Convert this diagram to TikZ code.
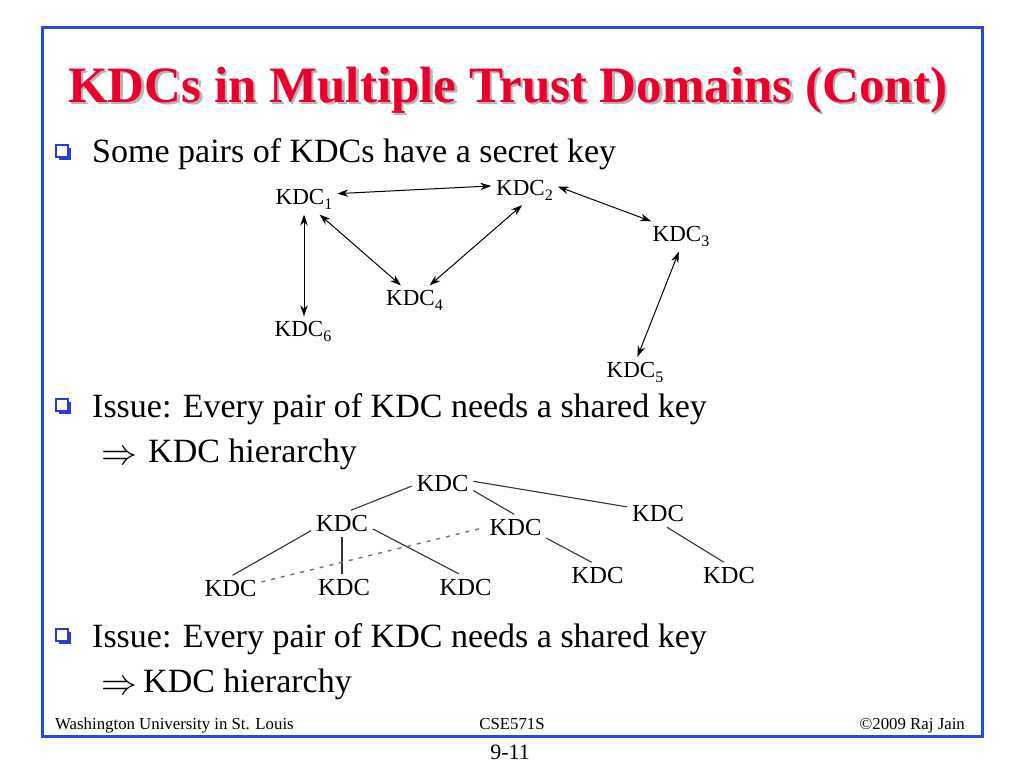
\documentclass[tikz,border=0pt]{standalone}
\usepackage{fontspec}
\setmainfont{Liberation Serif}
\usetikzlibrary{arrows.meta}
\definecolor{frameblue}{RGB}{35,75,225}
\definecolor{titlered}{RGB}{235,0,45}
\definecolor{shadowgray}{RGB}{180,180,180}
\definecolor{bulletblue}{RGB}{40,60,215}
\newcommand{\bigimpl}{\raisebox{-2pt}{\resizebox{36pt}{!}{$\Rightarrow$}}}
\newcommand{\kdcsub}[1]{KDC\raisebox{-5pt}{\fontsize{16}{16}\selectfont #1}}
\begin{document}
\begin{tikzpicture}[x=1pt,y=-1pt,
  kdcA/.style={font=\fontsize{23}{23}\selectfont, inner sep=1pt, outer sep=4pt},
  kdcB/.style={font=\fontsize{24.5}{24.5}\selectfont, inner sep=1pt, outer sep=4pt},
  biarrow/.style={{Stealth[length=11pt,width=7.5pt]}-{Stealth[length=11pt,width=7.5pt]}, line width=1pt},
  treeline/.style={line width=1.1pt, draw=black!80},
  peerline/.style={line width=1.4pt, draw=black!55, dash pattern=on 4pt off 6pt},
  body/.style={font=\fontsize{34}{34}\selectfont, anchor=base west, inner sep=0pt},
  titletext/.style={font=\fontsize{51}{51}\selectfont\bfseries, anchor=base west, inner sep=0pt},
  foot/.style={font=\fontsize{16.8}{16.8}\selectfont, inner sep=0pt},
  sqb/.pic={
    \fill[bulletblue] (-4,-4) rectangle (8,8);
    \filldraw[fill=white, draw=bulletblue, line width=1.6pt] (-7,-7) rectangle (5,5);
  }
]
\useasboundingbox (0,0) rectangle (1024,768);
\fill[white] (0,0) rectangle (1024,768);

% frame
\draw[frameblue, line width=3pt] (42.5,27.5) rectangle (982,736.5);

% title with shadow
\node[titletext, text=shadowgray] (titleshadow) at (70.5,104.5) {KDCs in Multiple Trust Domains (Cont)};
\node[titletext, text=titlered] (title) at (68,102) {KDCs in Multiple Trust Domains (Cont)};

% bullets
\pic at (63,152) {sqb};
\node[body] (b1) at (92,162) {Some pairs of KDCs have a secret key};

\pic at (63,406) {sqb};
\node[body] (b2) at (92,417) {Issue: Every pair of KDC needs a shared key};
\node[body] (b2h) at (101,462) {\bigimpl\hspace{11pt}KDC hierarchy};

\pic at (63,636) {sqb};
\node[body] (b3) at (92,647) {Issue: Every pair of KDC needs a shared key};
\node[body] (b3h) at (101,692) {\bigimpl\hspace{6pt}KDC hierarchy};

% diagram 1: peer KDCs
\node[kdcA] (k1) at (304,199.5) {\kdcsub{1}};
\node[kdcA] (k2) at (524.5,190) {\kdcsub{2}};
\node[kdcA] (k3) at (681,236.5) {\kdcsub{3}};
\node[kdcA] (k4) at (414.5,300.5) {\kdcsub{4}};
\node[kdcA] (k6) at (303,331.5) {\kdcsub{6}};
\node[kdcA] (k5) at (635,372) {\kdcsub{5}};

\draw[biarrow] (k1.10) -- (k2.173);
\draw[biarrow] (k2.6) -- (k3.153);
\draw[biarrow] (k1.south) -- (k1.south |- k6.north);
\draw[biarrow] (k1.-44) -- (k4.132);
\draw[biarrow] (k2.261) -- (k4.45);
\draw[biarrow] (k3.262) -- (k5.81);

% diagram 2: hierarchy
\node[kdcB] (T)  at (442.5,484) {KDC};
\node[kdcB] (L)  at (342,523.5) {KDC};
\node[kdcB] (M)  at (515.5,527.5) {KDC};
\node[kdcB] (R)  at (658,514) {KDC};
\node[kdcB] (B1) at (230.5,588.5) {KDC};
\node[kdcB] (B2) at (344,587) {KDC};
\node[kdcB] (B3) at (465.5,587) {KDC};
\node[kdcB] (B4) at (597.5,575.5) {KDC};
\node[kdcB] (B5) at (729,575.5) {KDC};

\draw[treeline] (T.184) -- (L.56);
\draw[treeline] (T.-12) -- (M.96);
\draw[treeline] (T.5) -- (R.167);
\draw[treeline] (L.193) -- (B1.81);
\draw[treeline] (L.south) -- (L.south |- B2.north);
\draw[treeline] (L.-10) -- (B3.117);
\draw[treeline] (M.-19) -- (B4.114);
\draw[treeline] (R.-56) -- (B5.111);
\draw[peerline] (B1.12) -- (M.180);

% footer
\node[foot, anchor=base west] (f1) at (55,729) {Washington University in St. Louis};
\node[foot, anchor=base] (f2) at (512,729) {CSE571S};
\node[foot, anchor=base east] (f3) at (965,729) {©2009 Raj Jain};
\node[font=\fontsize{22}{22}\selectfont, anchor=base, inner sep=0pt] (pg) at (510,759) {9-11};
\end{tikzpicture}
\end{document}
